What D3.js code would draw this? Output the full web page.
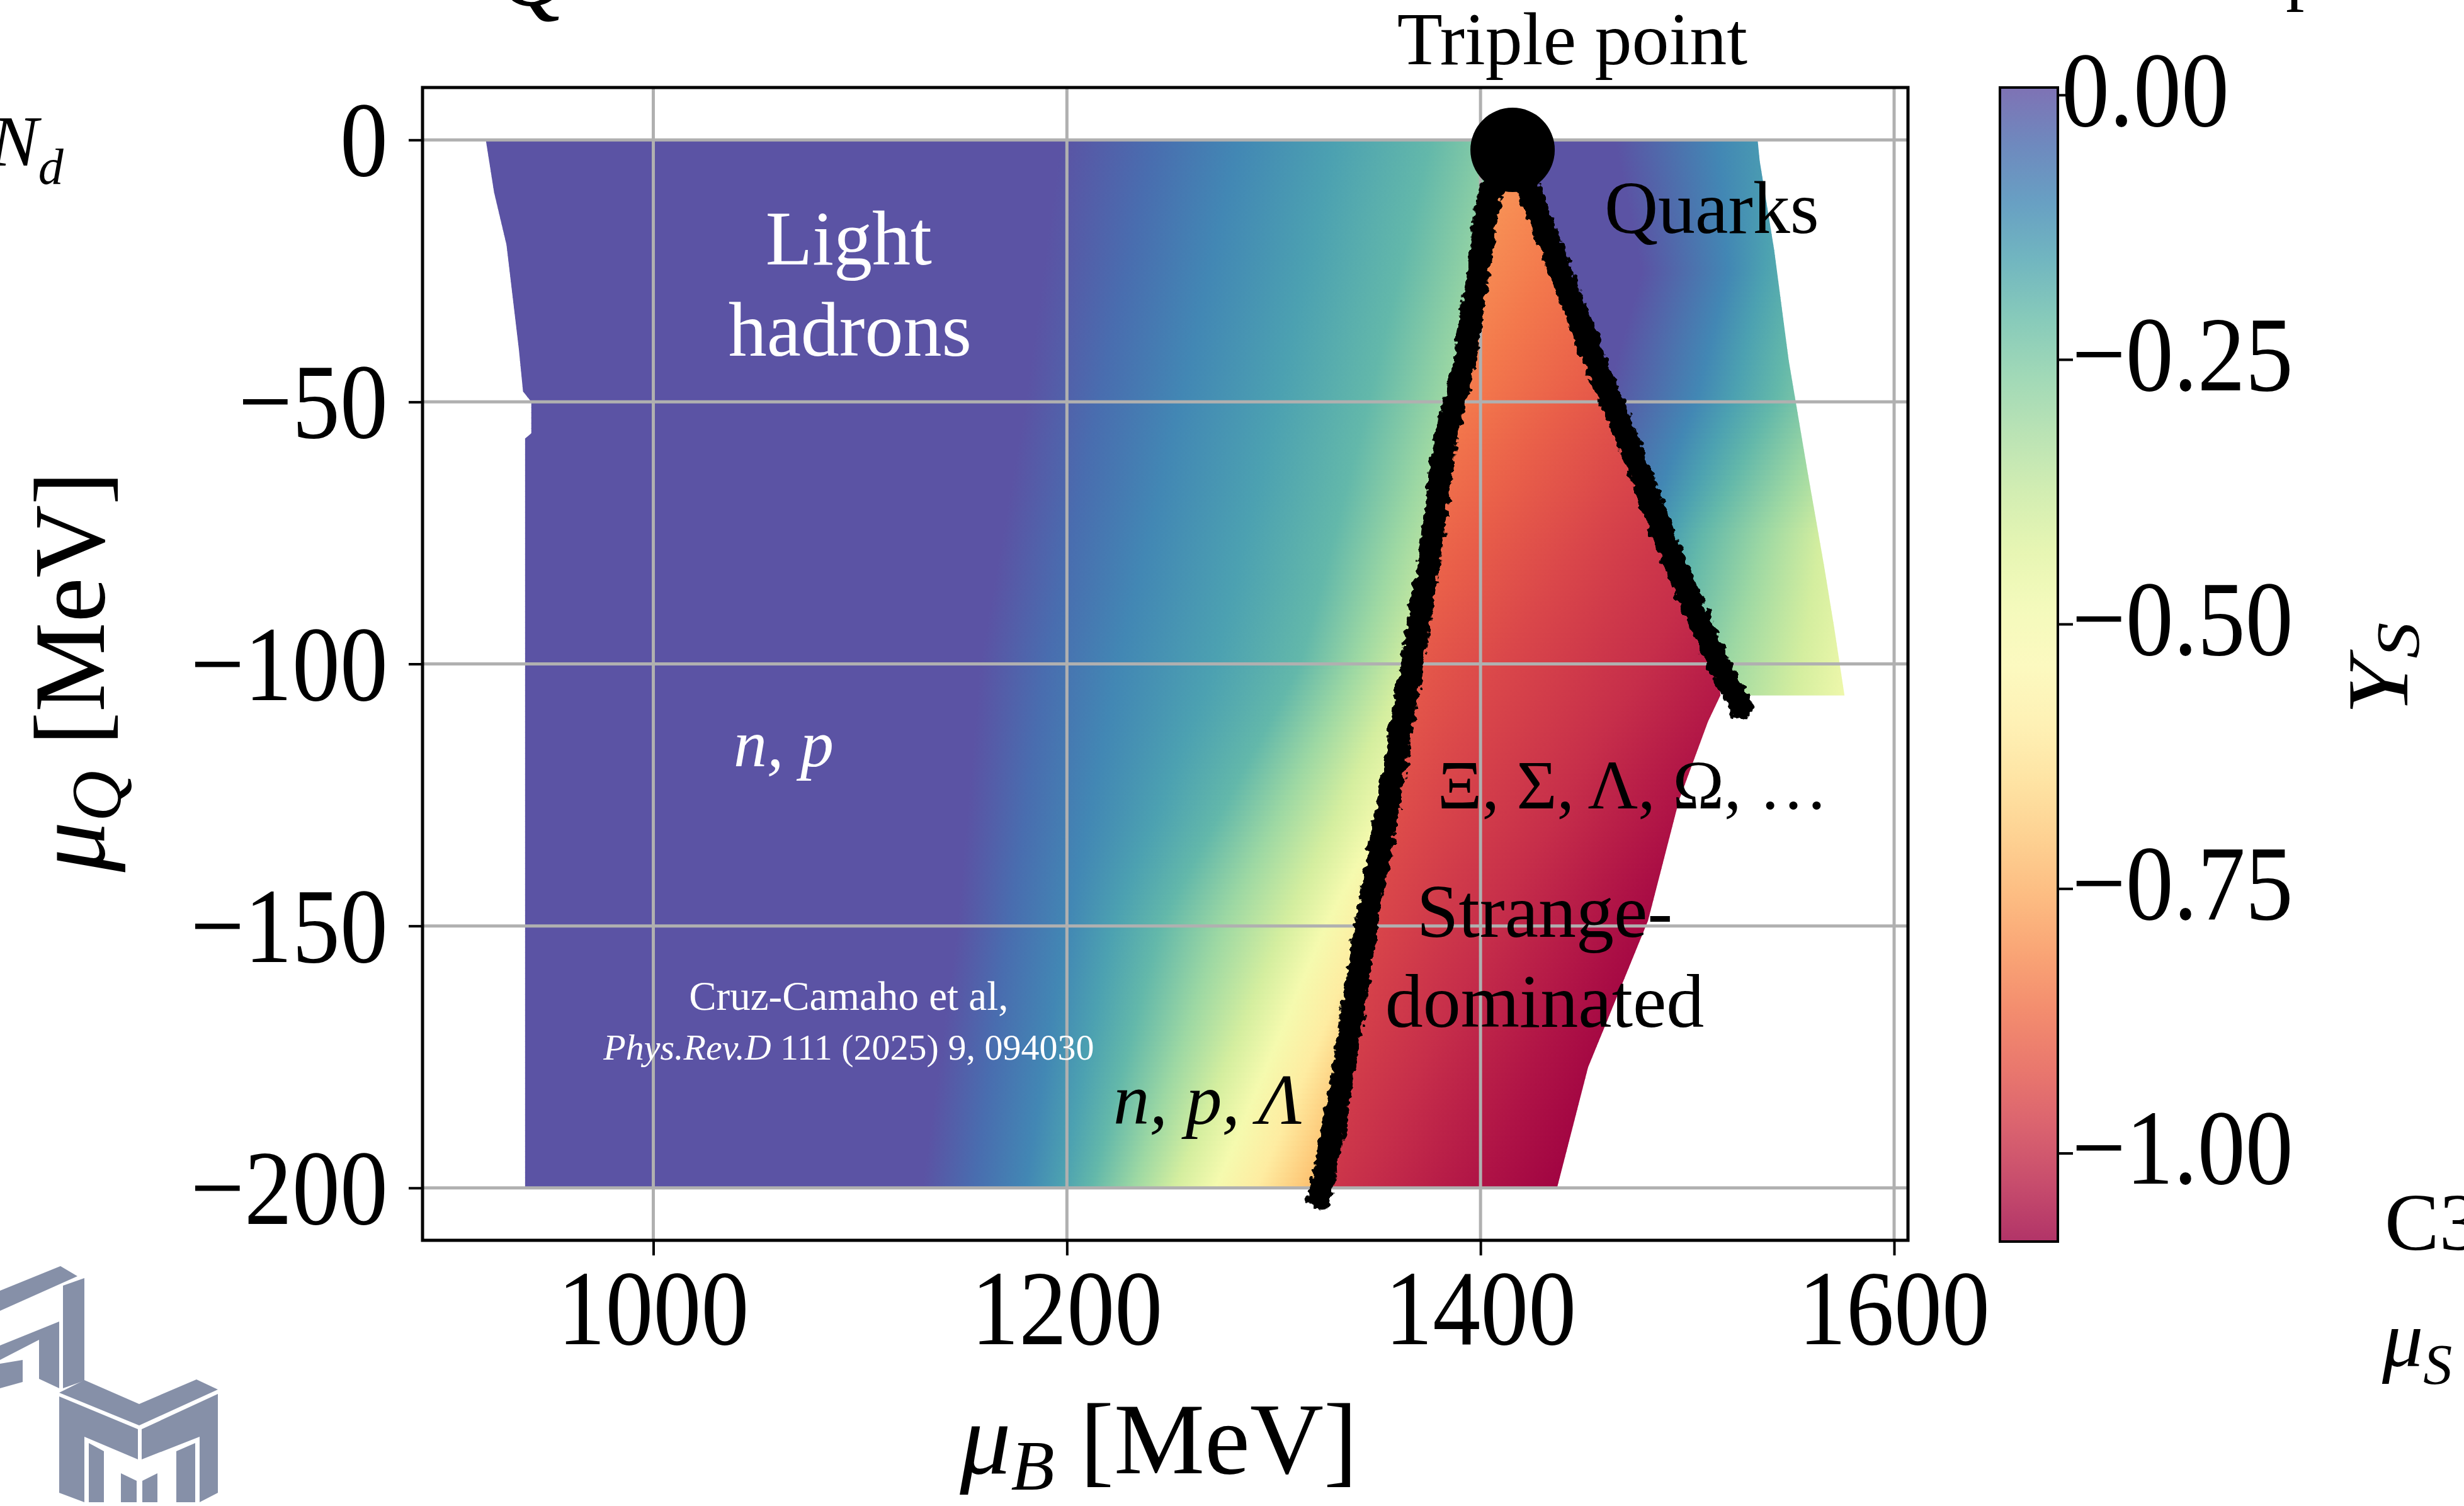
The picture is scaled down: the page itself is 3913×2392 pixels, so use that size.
<!DOCTYPE html>
<html>
<head>
<meta charset="utf-8">
<script src="https://cdn.jsdelivr.net/npm/d3@7"></script>
<style>
  body { margin: 0; background: #fff; }
  svg { display: block; font-family: "Liberation Serif", "DejaVu Serif", serif; }
</style>
</head>
<body>
<script>
// canvas
const width = 3913;
const height = 2392;

// axis ticks
const xTicks = [1000, 1200, 1400, 1600];
const yTicks = [0, -50, -100, -150, -200];
const cbTicks = [0, -0.25, -0.5, -0.75, -1.0];

// region borders, [muB, muQ] in MeV
const hadronEdge = [[919, 0], [923, -10], [929, -20], [932, -30], [935, -40], [937, -48], [941, -50], [941, -56], [938, -57], [938, -200]];
const leftLine = [[1416, -2], [1404, -11], [1392, -43], [1383, -57], [1377, -75], [1367, -100], [1357, -123], [1345, -149], [1334, -177], [1324, -199], [1322, -202]];
const rightLine = [[1416, -2], [1425, -11], [1456, -43], [1471, -57], [1493, -80], [1515, -100], [1526, -108]];
const strangeEdge = [[1437, -200], [1452, -177], [1481, -149], [1496, -126], [1510, -111], [1516, -106]];
const quarkEdge = [[1576, -106], [1571, -93], [1566, -81], [1558, -63], [1549, -42], [1542, -21], [1535, -4], [1534, 0]];
const triplePoint = [1415.5, -1.9];

// Y_S field: muB where each Y_S level is reached, at the muQ knots
const hadronKnots = [0, -50, -100, -150, -200];
const hadronLevels = [0, -0.05, -0.1, -0.15, -0.2, -0.3, -0.4, -0.5, -0.6, -0.7, -0.8];
const hadronContours = [
  [1197, 1180, 1158, 1147, 1130],
  [1242, 1215, 1190, 1172, 1155],
  [1283, 1255, 1225, 1200, 1180],
  [1330, 1302, 1272, 1222, 1197],
  [1376, 1346, 1313, 1245, 1212],
  [1420, 1383, 1340, 1275, 1232],
  [1470, 1420, 1365, 1305, 1252],
  [1510, 1460, 1392, 1325, 1272],
  [1550, 1495, 1418, 1345, 1292],
  [1590, 1530, 1444, 1365, 1314],
  [1630, 1560, 1470, 1390, 1335]
];

const strangeKnots = [0, -50, -100, -150, -200];
const strangeLevels = [-0.78, -0.85, -0.9, -0.95, -1.0, -1.05, -1.08];
const strangeContours = [
  [1400, 1330, 1250, 1180, 1100],
  [1470, 1395, 1300, 1230, 1170],
  [1530, 1440, 1356, 1290, 1233],
  [1580, 1490, 1410, 1345, 1290],
  [1630, 1545, 1480, 1405, 1344],
  [1680, 1600, 1535, 1460, 1400],
  [1710, 1630, 1565, 1495, 1440]
];

const quarkKnots = [0, -25, -50, -75, -100, -110];
const quarkLevels = [0, -0.1, -0.15, -0.2, -0.3, -0.4, -0.5];
const quarkContours = [
  [1465, 1478, 1460, 1436, 1418, 1410],
  [1515, 1520, 1504, 1478, 1458, 1450],
  [1545, 1537, 1522, 1493, 1474, 1465],
  [1570, 1557, 1542, 1508, 1489, 1480],
  [1600, 1588, 1572, 1538, 1520, 1512],
  [1630, 1618, 1600, 1565, 1555, 1550],
  [1660, 1650, 1630, 1600, 1585, 1580]
];

// plot box
const plot = {left: 671, right: 3030, top: 139, bottom: 1970};
const cb = {left: 3176, right: 3268};

const x = d3.scaleLinear().domain([888.4, 1606.7]).range([plot.left, plot.right]);
const y = d3.scaleLinear().domain([10, -210]).range([plot.top, plot.bottom]);
const cbY = d3.scaleLinear().domain([0.007, -1.083]).range([plot.top, plot.bottom + 1]);
const color = d3.scaleSequential(d3.interpolateSpectral).domain([-1.083, 0.007]);

const svg = d3.select('body').append('svg')
    .attr('width', width)
    .attr('height', height);

const defs = svg.append('defs');

// rough edge for the hand drawn lines
const rough = defs.append('filter').attr('id', 'rough')
    .attr('filterUnits', 'userSpaceOnUse')
    .attr('x', 0).attr('y', 0).attr('width', width).attr('height', height);
rough.append('feTurbulence').attr('type', 'fractalNoise')
    .attr('baseFrequency', 0.09).attr('numOctaves', 2).attr('seed', 3).attr('result', 'n');
rough.append('feDisplacementMap').attr('in', 'SourceGraphic').attr('in2', 'n')
    .attr('scale', 18).attr('xChannelSelector', 'R').attr('yChannelSelector', 'G');

const line = d3.line().x(d => x(d[0])).y(d => y(d[1]));

// polygons of the three regions
const polyHadron = hadronEdge.concat([[1324, -200]], leftLine.slice(0, -1).reverse(), [[1416, 0]]);
const polyStrange = leftLine.slice(0, -1).concat([[1324, -200]], strangeEdge, rightLine.slice(0, -1).reverse());
const polyQuark = rightLine.slice(0, -1).concat([[1521, -106]], quarkEdge, [[1416, 0]]);

// each region: thin horizontal strips, each with a gradient through the contour positions
function drawField(id, poly, knots, levels, contours) {
  defs.append('clipPath').attr('id', id + '-clip')
    .append('path').attr('d', line(poly) + 'Z');

  const lines = contours.map(c => d3.scaleLinear().domain(knots).range(c));
  const qs = d3.extent(poly, d => d[1]);
  const g = svg.append('g').attr('clip-path', `url(#${id}-clip)`);

  for (let q = qs[1]; q > qs[0] - 1; q -= 1) {
    const mid = q - 0.5;
    const xs = lines.map(l => x(l(mid)));
    const x0 = xs[0], x1 = xs[xs.length - 1];
    const gid = id + '-g' + (qs[1] - q);
    const grad = defs.append('linearGradient').attr('id', gid)
        .attr('gradientUnits', 'userSpaceOnUse')
        .attr('x1', x0).attr('x2', x1).attr('y1', 0).attr('y2', 0);
    xs.forEach((px, k) => {
      grad.append('stop')
        .attr('offset', (px - x0) / (x1 - x0))
        .attr('stop-color', color(levels[k]));
    });
    g.append('rect')
      .attr('x', plot.left)
      .attr('width', plot.right - plot.left)
      .attr('y', y(q))
      .attr('height', y(q - 1) - y(q) + 1)
      .attr('fill', `url(#${gid})`);
  }
}

drawField('hadron', polyHadron, hadronKnots, hadronLevels, hadronContours);
drawField('strange', polyStrange, strangeKnots, strangeLevels, strangeContours);
drawField('quark', polyQuark, quarkKnots, quarkLevels, quarkContours);

// grid
svg.append('g').selectAll('line')
    .data(xTicks).enter().append('line')
    .attr('x1', d => x(d)).attr('x2', d => x(d))
    .attr('y1', plot.top).attr('y2', plot.bottom)
    .attr('stroke', '#b0b0b0').attr('stroke-width', 5);
svg.append('g').selectAll('line')
    .data(yTicks).enter().append('line')
    .attr('y1', d => y(d)).attr('y2', d => y(d))
    .attr('x1', plot.left).attr('x2', plot.right)
    .attr('stroke', '#b0b0b0').attr('stroke-width', 5);

// hand drawn phase borders
const drawn = svg.append('g').attr('filter', 'url(#rough)');
[leftLine, rightLine].forEach(l => {
  drawn.append('path')
    .attr('d', line(l))
    .attr('fill', 'none')
    .attr('stroke', '#000')
    .attr('stroke-width', 37)
    .attr('stroke-linecap', 'round')
    .attr('stroke-linejoin', 'round');
});

svg.append('circle')
    .attr('cx', x(triplePoint[0]))
    .attr('cy', y(triplePoint[1]))
    .attr('r', 67)
    .attr('fill', '#000');

// frame and ticks
svg.append('rect')
    .attr('x', plot.left).attr('y', plot.top)
    .attr('width', plot.right - plot.left).attr('height', plot.bottom - plot.top)
    .attr('fill', 'none').attr('stroke', '#000').attr('stroke-width', 5);

svg.append('g')
    .attr('transform', `translate(0,${plot.bottom})`)
    .call(d3.axisBottom(x).tickValues(xTicks).tickSize(24).tickFormat(''))
    .call(g => g.select('.domain').remove())
    .call(g => g.selectAll('line').attr('stroke-width', 4));
svg.append('g')
    .attr('transform', `translate(${plot.left},0)`)
    .call(d3.axisLeft(y).tickValues(yTicks).tickSize(22).tickFormat(''))
    .call(g => g.select('.domain').remove())
    .call(g => g.selectAll('line').attr('stroke-width', 4));

// tick labels (the plot text is a bit taller than wide)
const sy = 1.12;
const numSize = 152;
function putText(px, py, str, anchor) {
  return svg.append('text')
    .attr('transform', `translate(${px},${py}) scale(1,${sy})`)
    .attr('text-anchor', anchor)
    .style('font-size', numSize + 'px')
    .text(str);
}
xTicks.forEach(v => putText(x(v), 2135, d3.format('d')(v), 'middle'));
yTicks.forEach(v => putText(616, y(v) + 57, d3.format('d')(v), 'end'));

// axis titles
const xl = svg.append('text')
    .attr('transform', 'translate(1840,2340)')
    .attr('text-anchor', 'middle')
    .style('font-size', '162px');
xl.append('tspan').style('font-style', 'italic').text('μ');
xl.append('tspan').style('font-style', 'italic').style('font-size', '113px').attr('dy', 26).text('B');
xl.append('tspan').attr('dy', -26).text(' [MeV]');

const yl = svg.append('text')
    .attr('transform', 'translate(165,1067) rotate(-90)')
    .attr('text-anchor', 'middle')
    .style('font-size', '160px');
yl.append('tspan').style('font-style', 'italic').text('μ');
yl.append('tspan').style('font-style', 'italic').style('font-size', '112px').attr('dy', 26).text('Q');
yl.append('tspan').attr('dy', -26).text(' [MeV]');

// colorbar
const cbGrad = defs.append('linearGradient').attr('id', 'cbgrad')
    .attr('x1', 0).attr('x2', 0).attr('y1', 0).attr('y2', 1);
d3.range(0, 1.0001, 0.05).forEach(t => {
  cbGrad.append('stop').attr('offset', t)
    .attr('stop-color', color(cbY.invert(plot.top + t * (plot.bottom - plot.top))));
});
svg.append('rect')
    .attr('x', cb.left).attr('y', plot.top)
    .attr('width', cb.right - cb.left).attr('height', plot.bottom + 2 - plot.top)
    .attr('fill', 'url(#cbgrad)').attr('fill-opacity', 0.8);
svg.append('rect')
    .attr('x', cb.left).attr('y', plot.top)
    .attr('width', cb.right - cb.left).attr('height', plot.bottom + 2 - plot.top)
    .attr('fill', 'none').attr('stroke', '#000').attr('stroke-width', 4);
svg.append('g')
    .attr('transform', `translate(${cb.right},0)`)
    .call(d3.axisRight(cbY).tickValues(cbTicks).tickSize(24).tickFormat(''))
    .call(g => g.select('.domain').remove())
    .call(g => g.selectAll('line').attr('stroke-width', 4));
cbTicks.forEach(v => putText(v === 0 ? 3274 : 3290, cbY(v) + 49, d3.format('.2f')(v), 'start'));

const cl = svg.append('text')
    .attr('transform', 'translate(3823,1062) rotate(-90) scale(1.17,1)')
    .attr('text-anchor', 'middle')
    .style('font-size', '138px');
cl.append('tspan').style('font-style', 'italic').text('Y');
cl.append('tspan').style('font-style', 'italic').style('font-size', '98px').attr('dy', 18).text('S');

// annotations, placed in data units
const notes = [
  {t: 'Triple point', b: 1444.4, q: 14.4, a: 'middle', s: 118, c: '#000'},
  {t: 'Quarks', b: 1459.9, q: -17.8, a: 'start', s: 118, c: '#000'},
  {t: 'Light', b: 1094.5, q: -23.8, a: 'middle', s: 122, c: '#fff'},
  {t: 'hadrons', b: 1095.1, q: -41.2, a: 'middle', s: 122, c: '#fff'},
  {t: 'n, p', b: 1038.8, q: -119.5, a: 'start', s: 106, c: '#fff', i: true},
  {t: 'Ξ, Σ, Λ, Ω, …', b: 1379.2, q: -127.6, a: 'start', s: 110, c: '#000'},
  {t: 'Strange-', b: 1431.0, q: -152.1, a: 'middle', s: 120, c: '#000'},
  {t: 'dominated', b: 1431.0, q: -169.3, a: 'middle', s: 120, c: '#000'},
  {t: 'Cruz-Camaho et al,', b: 1094.5, q: -166.0, a: 'middle', s: 65, c: '#fff'},
  {t: 'n, p, Λ', b: 1222.4, q: -187.8, a: 'start', s: 115, c: '#000', i: true}
];
svg.append('g').selectAll('text')
    .data(notes).enter().append('text')
    .attr('x', d => x(d.b))
    .attr('y', d => y(d.q))
    .attr('text-anchor', d => d.a)
    .attr('fill', d => d.c)
    .style('font-size', d => d.s + 'px')
    .style('font-style', d => d.i ? 'italic' : 'normal')
    .text(d => d.t);

const ref = svg.append('text')
    .attr('x', x(1094.5)).attr('y', y(-175.5))
    .attr('text-anchor', 'middle')
    .attr('fill', '#fff')
    .style('font-size', '58px');
ref.append('tspan').style('font-style', 'italic').text('Phys.Rev.D');
ref.append('tspan').text(' 111 (2025) 9, 094030');

// bits of the neighbouring slide content
svg.append('text').attr('x', 790).attr('y', 8)
    .style('font-size', '160px').style('font-style', 'italic').text('Q');
svg.append('text').attr('x', 3630).attr('y', -6)
    .style('font-size', '118px').text('p');
const nd = svg.append('text').attr('x', -16).attr('y', 263)
    .style('font-size', '115px').style('font-style', 'italic');
nd.append('tspan').text('N');
nd.append('tspan').style('font-size', '80px').attr('dy', 29).text('d');
svg.append('text').attr('x', 3787).attr('y', 1985)
    .style('font-size', '130px').text('C3');
const ms = svg.append('text').attr('x', 3783).attr('y', 2170)
    .style('font-size', '130px').style('font-style', 'italic');
ms.append('tspan').text('μ');
ms.append('tspan').style('font-size', '92px').attr('dy', 28).text('S');

// logo in the lower left corner
const logoShapes = [
  [[0, 2050], [96, 2011], [123, 2027], [0, 2082]],
  [[100, 2042], [134, 2030], [134, 2193], [100, 2205]],
  [[0, 2137], [94, 2099], [94, 2205], [62, 2190], [62, 2128], [0, 2160]],
  [[0, 2166], [36, 2160], [36, 2195], [0, 2205]],
  [[94, 2212], [134, 2192], [221, 2230], [312, 2191], [346, 2207], [221, 2264]],
  [[94, 2218], [219, 2270], [219, 2318], [134, 2282], [134, 2386], [94, 2371]],
  [[225, 2270], [346, 2214], [346, 2371], [317, 2386], [317, 2282], [225, 2318]],
  [[141, 2292], [165, 2305], [165, 2386], [141, 2386]],
  [[280, 2305], [310, 2292], [310, 2386], [280, 2386]],
  [[192, 2340], [217, 2352], [217, 2386], [192, 2386]],
  [[226, 2352], [250, 2340], [250, 2386], [226, 2386]]
];
svg.append('g').selectAll('path')
    .data(logoShapes).enter().append('path')
    .attr('d', d => d3.line()(d) + 'Z')
    .attr('fill', '#8690a8');
</script>
</body>
</html>
